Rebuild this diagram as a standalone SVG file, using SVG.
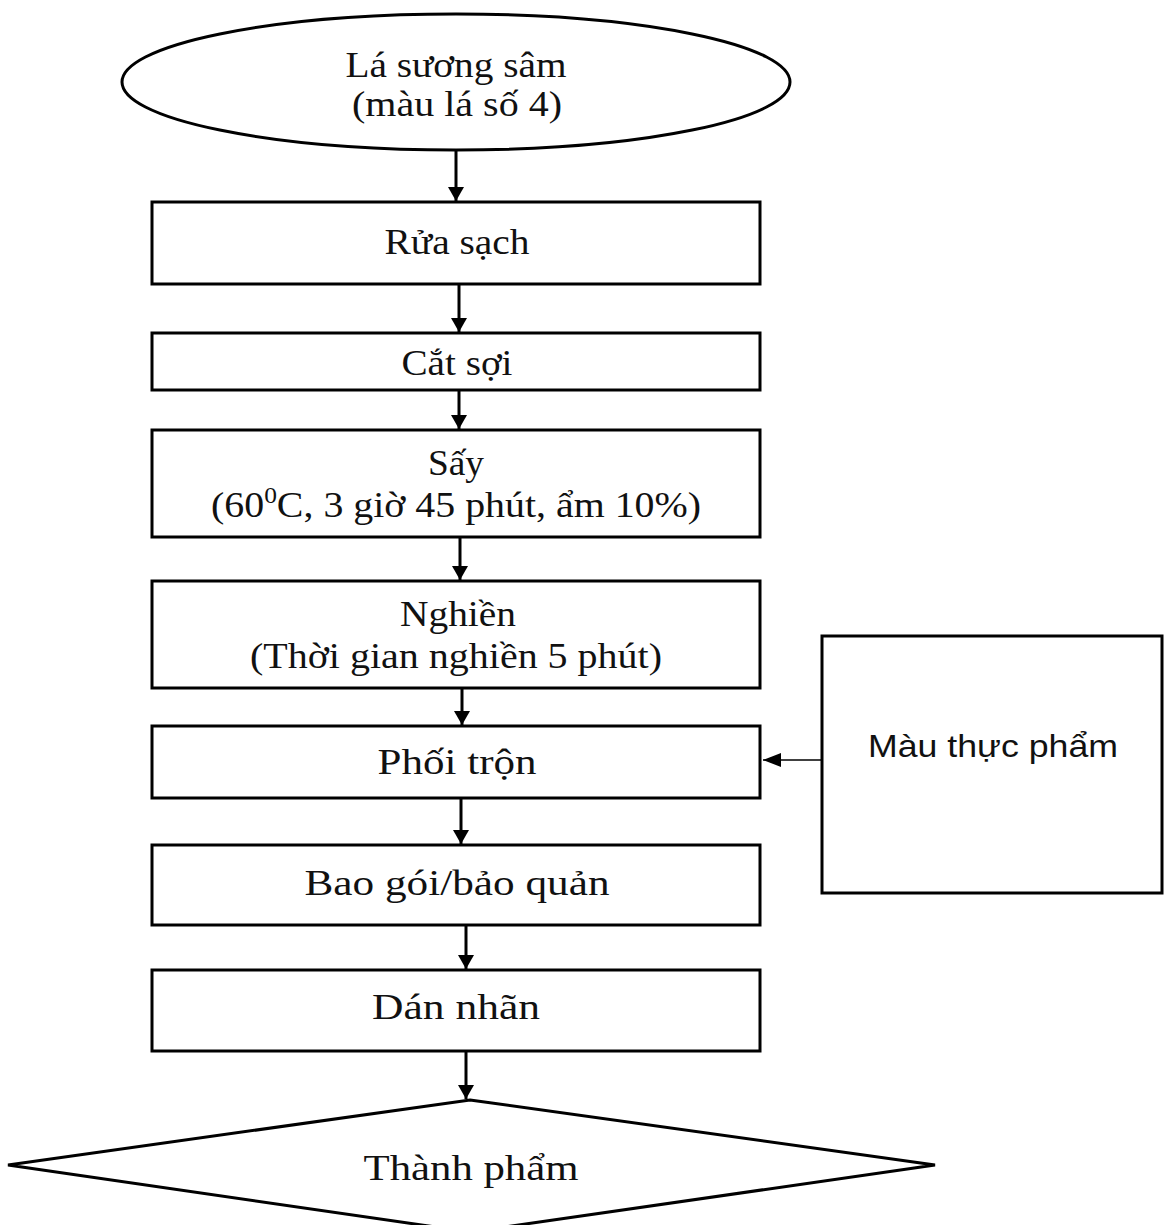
<svg xmlns="http://www.w3.org/2000/svg" width="1164" height="1225" viewBox="0 0 1164 1225">
<style>
.shape{fill:#fff;stroke:#000;stroke-width:3}
.t{font-family:"Liberation Serif","Times New Roman",serif;font-size:36px;fill:#111;text-anchor:middle}
.s{font-family:"Liberation Sans",Arial,sans-serif;font-size:32px;fill:#111;text-anchor:middle}
.c{stroke:#000;stroke-width:3;fill:none;marker-end:url(#ah)}
.c2{stroke:#000;stroke-width:1.6;fill:none;marker-end:url(#ah2)}
</style>
<defs>
<marker id="ah" markerUnits="userSpaceOnUse" markerWidth="14" markerHeight="16" refX="14" refY="8" orient="auto" viewBox="0 0 14 16"><path d="M0,0 L14,8 L0,16 z" fill="#000"/></marker>
<marker id="ah2" markerUnits="userSpaceOnUse" markerWidth="18" markerHeight="14" refX="18" refY="7" orient="auto" viewBox="0 0 18 14"><path d="M0,0 L18,7 L0,14 z" fill="#000"/></marker>
</defs>
<rect width="1164" height="1225" fill="#fff"/>
<g id="connectors">
<line class="c" x1="456" y1="151" x2="456" y2="201"/>
<line class="c" x1="459" y1="285" x2="459" y2="332"/>
<line class="c" x1="459" y1="391" x2="459" y2="429"/>
<line class="c" x1="460" y1="538" x2="460" y2="580"/>
<line class="c" x1="462" y1="689" x2="462" y2="725"/>
<line class="c" x1="461" y1="799" x2="461" y2="844"/>
<line class="c" x1="466" y1="926" x2="466" y2="969"/>
<line class="c" x1="466" y1="1052" x2="466" y2="1099"/>
<line class="c2" x1="822" y1="760" x2="763" y2="760"/>
</g>
<g id="n1"><ellipse class="shape" cx="456" cy="82" rx="334" ry="68"/>
<text class="t" x="456" y="77" textLength="221" lengthAdjust="spacingAndGlyphs">Lá sương sâm</text>
<text class="t" x="457" y="116" textLength="210" lengthAdjust="spacingAndGlyphs">(màu lá số 4)</text></g>
<g id="n2"><rect class="shape" x="152" y="202" width="608" height="82"/>
<text class="t" x="457" y="254" textLength="145" lengthAdjust="spacingAndGlyphs">Rửa sạch</text></g>
<g id="n3"><rect class="shape" x="152" y="333" width="608" height="57"/>
<text class="t" x="457" y="375" textLength="111" lengthAdjust="spacingAndGlyphs">Cắt sợi</text></g>
<g id="n4"><rect class="shape" x="152" y="430" width="608" height="107"/>
<text class="t" x="456" y="475" textLength="56" lengthAdjust="spacingAndGlyphs">Sấy</text>
<text class="t" x="456" y="517" textLength="490" lengthAdjust="spacingAndGlyphs">(60<tspan font-size="23" dy="-14">0</tspan><tspan dy="14">C, 3 giờ 45 phút, ẩm 10%)</tspan></text></g>
<g id="n5"><rect class="shape" x="152" y="581" width="608" height="107"/>
<text class="t" x="458" y="626" textLength="116" lengthAdjust="spacingAndGlyphs">Nghiền</text>
<text class="t" x="456" y="668" textLength="412" lengthAdjust="spacingAndGlyphs">(Thời gian nghiền 5 phút)</text></g>
<g id="n6"><rect class="shape" x="152" y="726" width="608" height="72"/>
<text class="t" x="457" y="774" textLength="159" lengthAdjust="spacingAndGlyphs">Phối trộn</text></g>
<g id="n7"><rect class="shape" x="152" y="845" width="608" height="80"/>
<text class="t" x="457" y="895" textLength="305" lengthAdjust="spacingAndGlyphs">Bao gói/bảo quản</text></g>
<g id="n8"><rect class="shape" x="152" y="970" width="608" height="81"/>
<text class="t" x="456" y="1019" textLength="168" lengthAdjust="spacingAndGlyphs">Dán nhãn</text></g>
<g id="n9"><polygon class="shape" points="470,1100 935,1165 470,1232 8,1165"/>
<text class="t" x="471" y="1180" textLength="215" lengthAdjust="spacingAndGlyphs">Thành phẩm</text></g>
<g id="n10"><rect class="shape" x="822" y="636" width="340" height="257"/>
<text class="s" x="993" y="757" textLength="250" lengthAdjust="spacingAndGlyphs">Màu thực phẩm</text></g>
</svg>
